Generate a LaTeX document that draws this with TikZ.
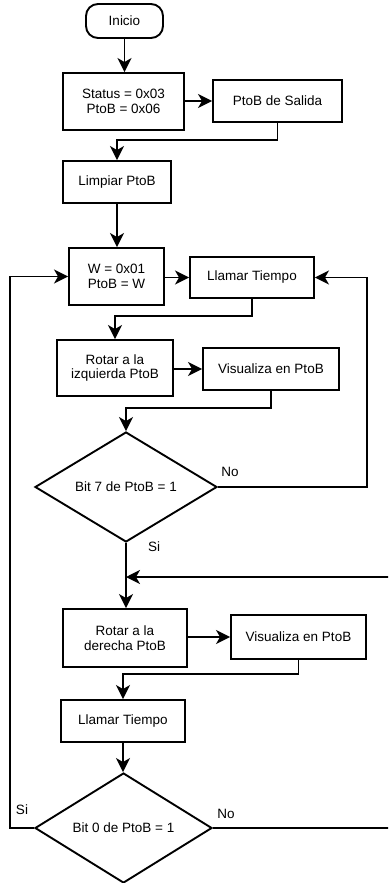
\documentclass[tikz,border=0pt]{standalone}
\usepackage{fontspec}
\setmainfont{Liberation Sans}
\usetikzlibrary{arrows.meta,shapes.geometric,calc}
\begin{document}
\begin{tikzpicture}[x=1pt,y=-1pt,
  txt/.style={font=\fontsize{13.5}{14.5}\selectfont},
  box/.style={txt, draw, line width=1.9pt, align=center, inner sep=0pt},
  term/.style={box, rounded corners=12pt},
  cond/.style={box, diamond, shape aspect=1.65},
  lbl/.style={txt, inner sep=0pt},
  wire/.style={line width=1.9pt},
  flow/.style={wire, -{Stealth[length=14pt,width=14pt,inset=4pt]}}]
\useasboundingbox (0,0) rectangle (388,883);
\clip (0,0) rectangle (388,883);

% --- nodes ---
\node[term, minimum width=77pt, minimum height=34pt] (inicio) at (124.5,21) {Inicio};
\node[box, minimum width=121pt, minimum height=57pt] (status) at (123.5,101.5) {Status = 0x03\\PtoB = 0x06};
\node[box, minimum width=129pt, minimum height=42pt] (salida) at (277.5,101) {PtoB de Salida};
\node[box, minimum width=108pt, minimum height=42pt] (limpiar) at (117,182) {Limpiar PtoB};
\node[box, minimum width=95pt, minimum height=57pt] (w) at (116.5,276.5) {W = 0x01\\PtoB = W};
\node[box, minimum width=124pt, minimum height=41pt] (llamarA) at (252,277.5) {Llamar Tiempo};
\node[box, minimum width=116pt, minimum height=56pt] (rotiz) at (115,368) {Rotar a la\\izquierda PtoB};
\node[box, minimum width=136pt, minimum height=42pt] (visA) at (271,369) {Visualiza en PtoB};
\node[cond, minimum width=182pt, minimum height=110pt] (dA) at (126,487) {Bit 7 de PtoB = 1};
\node[box, minimum width=124pt, minimum height=58pt] (rotder) at (125,638) {Rotar a la\\derecha PtoB};
\node[box, minimum width=135pt, minimum height=44pt] (visB) at (298.5,637) {Visualiza en PtoB};
\node[box, minimum width=124pt, minimum height=42pt] (llamarB) at (123,721) {Llamar Tiempo};
\node[cond, minimum width=177pt, minimum height=110pt] (dB) at (123.5,828) {Bit 0 de PtoB = 1};

% --- branch labels ---
\node[lbl] (noA) at (230,472) {No};
\node[lbl] (siA) at (154,547) {Si};
\node[lbl] (siB) at (22,810) {Si};
\node[lbl] (noB) at (226,814) {No};

% --- loop corners ---
\coordinate (rA) at (367,487);
\coordinate (lB) at (10,828);
\coordinate (rB) at (396,828);
\coordinate (jn) at (126,577);

% --- connectors ---
\draw[flow] (inicio.south) -- (inicio.south |- status.north);
\draw[flow] (status.east |- salida.west) -- (salida.west);
\draw[flow] (salida.south) -- ++(0,17) -| (limpiar.north);
\draw[flow] (limpiar.south) -- (limpiar.south |- w.north);
\draw[flow] (w.east |- llamarA.west) -- (llamarA.west);
\draw[flow] (llamarA.south) -- ++(0,17) -| (rotiz.north);
\draw[flow] (rotiz.east |- visA.west) -- (visA.west);
\draw[flow] (visA.south) -- ++(0,17) -| (dA.north);
\draw[flow] (dA.east) -- (rA) |- (llamarA.east);
\draw[flow] (dA.south) -- (dA.south |- rotder.north);
\draw[flow] (rotder.east |- visB.west) -- (visB.west);
\draw[flow] (visB.south) -- ++(0,14) -| (llamarB.north);
\draw[flow] (llamarB.south) -- (llamarB.south |- dB.north);
\draw[flow] (dB.west) -- (lB) |- (w.west);
\draw[flow] (dB.east) -- (rB) |- (jn);
\end{tikzpicture}
\end{document}
